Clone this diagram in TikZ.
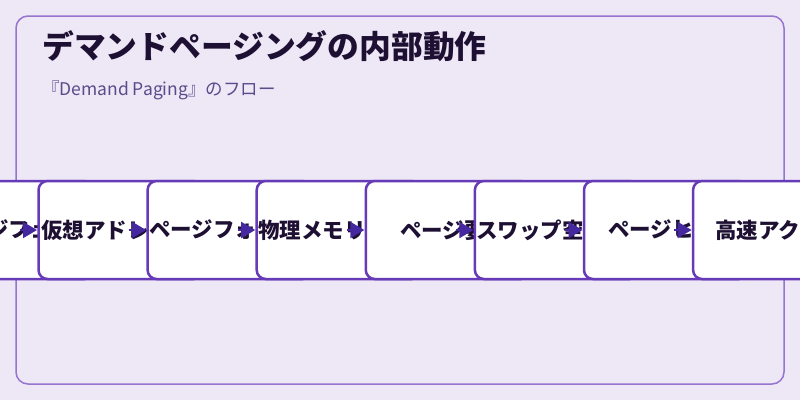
\documentclass[tikz,border=0pt]{standalone}
\usepackage{fontspec}
\setmainfont{Noto Sans CJK JP}
\usetikzlibrary{arrows.meta}
\definecolor{bgc}{HTML}{EDE7F6}
\definecolor{framec}{HTML}{9575CD}
\definecolor{boxc}{HTML}{673AB7}
\definecolor{arrc}{HTML}{4527A0}
\definecolor{ink}{HTML}{1E1033}
\definecolor{subc}{HTML}{5B4B8A}
\begin{document}
\begin{tikzpicture}[x=1pt,y=-1pt,
  stepbox/.style={draw=boxc, line width=2.5pt, fill=white, rounded corners=9pt,
    minimum width=164pt, minimum height=98pt, inner sep=0pt, outer sep=0pt, anchor=west},
  lbl/.style={font=\bfseries\fontsize{21.5}{24}\selectfont, text=ink, inner sep=0pt, anchor=west},
  arr/.style={draw=arrc, line width=2pt, -{Triangle[length=14pt,width=16pt]}}]
\useasboundingbox (0,0) rectangle (800,400);
\fill[bgc] (0,0) rectangle (800,400);
\draw[framec, line width=1.5pt, rounded corners=12pt] (16,16) rectangle (784,384);
\node[anchor=base west, font=\bfseries\fontsize{31.8}{36}\selectfont, text=ink, inner sep=0pt] (title) at (42,58) {デマンドページングの内部動作};
\node[anchor=base west, font=\fontsize{17.5}{20}\selectfont, text=subc, inner sep=0pt] (sub) at (42,95) {『Demand Paging』のフロー};
\begin{scope}
\clip (0,0) rectangle (800,400);
\coordinate (w1) at (-70.6,230);
\coordinate (w2) at (38.5,230);
\coordinate (w3) at (147.6,230);
\coordinate (w4) at (256.7,230);
\coordinate (w5) at (365.8,230);
\coordinate (w6) at (474.9,230);
\coordinate (w7) at (584,230);
\coordinate (w8) at (693.1,230);
\node[stepbox] (b1) at (w1) {};
\node[lbl] (t1) at (-55.5,230) {ページフェッチ};
\draw[arr] ([xshift=-19pt]w2) -- ([xshift=-1.5pt]w2);
\node[stepbox] (b2) at (w2) {};
\node[lbl] (t2) at (41,230) {仮想アドレス};
\draw[arr] ([xshift=-19pt]w3) -- ([xshift=-1.5pt]w3);
\node[stepbox] (b3) at (w3) {};
\node[lbl] (t3) at (149,230) {ページフォルト};
\draw[arr] ([xshift=-19pt]w4) -- ([xshift=-1.5pt]w4);
\node[stepbox] (b4) at (w4) {};
\node[lbl] (t4) at (258,230) {物理メモリ確保};
\draw[arr] ([xshift=-19pt]w5) -- ([xshift=-1.5pt]w5);
\node[stepbox] (b5) at (w5) {};
\node[lbl] (t5) at (400,230) {ページ要求};
\draw[arr] ([xshift=-19pt]w6) -- ([xshift=-1.5pt]w6);
\node[stepbox] (b6) at (w6) {};
\node[lbl] (t6) at (476,230) {スワップ空間から読込};
\draw[arr] ([xshift=-19pt]w7) -- ([xshift=-1.5pt]w7);
\node[stepbox] (b7) at (w7) {};
\node[lbl] (t7) at (608,230) {ページヒット};
\draw[arr] ([xshift=-19pt]w8) -- ([xshift=-1.5pt]w8);
\node[stepbox] (b8) at (w8) {};
\node[lbl] (t8) at (715,230) {高速アクセス};
\end{scope}
\end{tikzpicture}
\end{document}
